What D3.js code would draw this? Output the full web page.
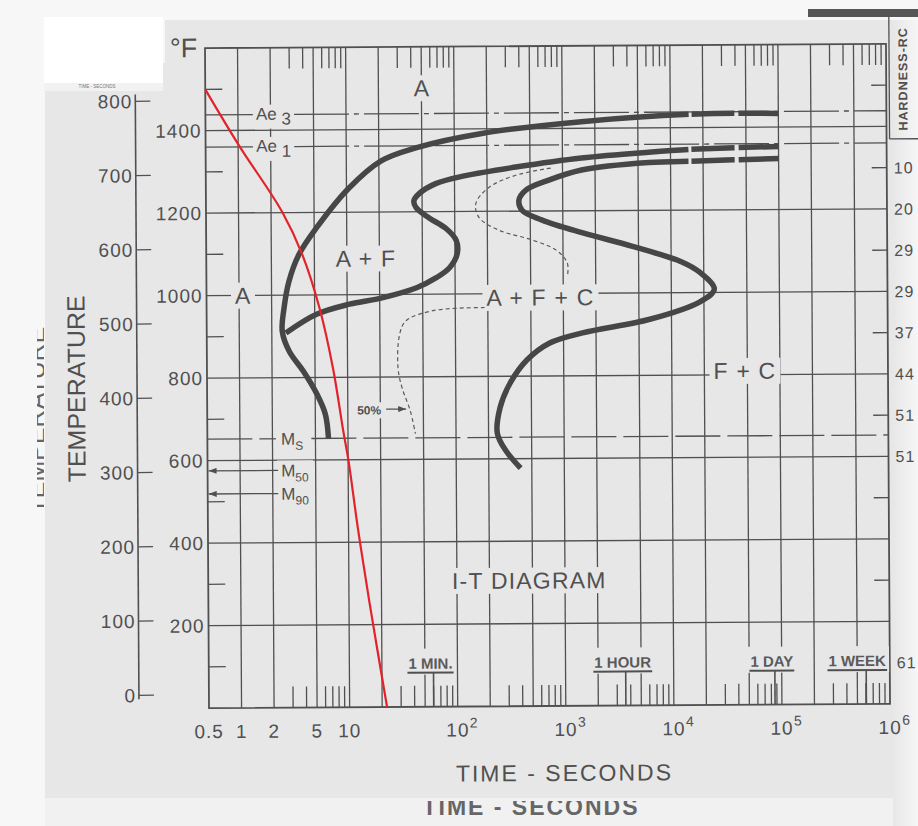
<!DOCTYPE html>
<html>
<head>
<meta charset="utf-8">
<script src="https://cdn.jsdelivr.net/npm/d3@7"></script>
<style>
  body { margin: 0; background: #f7f7f7; }
  svg { display: block; font-family: "Liberation Sans", Arial, sans-serif; }
</style>
</head>
<body>
<script>
var svgWidth = 918;
var svgHeight = 826;

// ---- axis values ----
var timeTicks = [0.5, 1, 2, 5, 10, 100, 1000, 10000, 100000, 1000000];
var timeTickBase = ["0.5", "1", "2", "5", "10", "10", "10", "10", "10", "10"];
var timeTickExp = ["", "", "", "", "", "2", "3", "4", "5", "6"];

var fahrenheitTicks = [200, 400, 600, 800, 1000, 1200, 1400];
var fahrenheitMinor = [100, 300, 500, 700, 900, 1100, 1300, 1500];
var celsiusTicks = [0, 100, 200, 300, 400, 500, 600, 700, 800];

var hardnessTemps = [1300, 1200, 1100, 1000, 900, 800, 700, 600, 100];
var hardnessValues = ["10", "20", "29", "29", "37", "44", "51", "51", "61"];

var timeMarks = [60, 3600, 86400, 604800];
var timeMarkLabels = ["1 MIN.", "1 HOUR", "1 DAY", "1 WEEK"];

// critical temperatures (deg F)
var ae3 = 1438, ae1 = 1360, ms = 652, m50 = 575, m90 = 519;

// ---- curves [seconds, deg F] ----
var startCurve = [[1e5,1433],[1.8e4,1433],[1500,1416],[180,1389],[44,1355],[21,1324],[10.5,1258],
  [5.2,1161],[3.6,1098],[2.9,1033],[2.6,967],[2.5,912],[2.9,863],[3.9,815],[5.2,759],[6.2,710],[6.6,652]];
var ferriteCurve = [[1e5,1353],[1.8e4,1348],[6300,1341],[1500,1328],[370,1307],[127,1287],[67,1268],
  [47,1244],[42,1227],[44,1210],[58,1185],[83,1159],[103,1130],[105,1098],[89,1064],[67,1040],
  [44,1016],[21,992],[10.5,977],[5.2,953],[2.7,908]];
var finishCurve = [[1e5,1324],[1.8e4,1319],[6300,1316],[1500,1299],[745,1275],[457,1251],[394,1227],
  [420,1202],[643,1178],[1500,1147],[4400,1113],[12700,1074],[18200,1050],[25000,1008],[18200,977],
  [6300,936],[1500,904],[745,880],[457,839],[318,783],[257,725],[241,662],[286,621],[394,577]];
var halfUpper = [[778,1304],[369,1287],[208,1258],[157,1219],[168,1185],[257,1154],[519,1130],
  [865,1105],[1094,1074],[1094,1040]];
var halfLower = [[187,967],[62,960],[35,936],[30.5,904],[29.3,822],[31.9,773],[37.8,718],[42.1,662]];
var coolingCurve = [[0.5,1500],[1.01,1365],[2.53,1202],[3.87,1098],[5.56,967],[7.33,822],
  [9.06,669],[10.1,596],[12.2,434],[15.4,257],[22.2,0]];

var regionLabels = ["A", "A + F", "A", "A + F + C", "F + C", "I-T DIAGRAM"];
var regionTimes = [50, 15, 1.08, 615, 47500, 467];
var regionTemps = [1500, 1088, 1000, 991, 810, 305];

var paper = "#e7e7e7";
var ink = "#505050";

var svg = d3.select("body").append("svg")
  .attr("width", svgWidth)
  .attr("height", svgHeight);

// ---- scan background ----
svg.append("rect").attr("width", svgWidth).attr("height", svgHeight).attr("fill", "#f7f7f7");
svg.append("path")
  .attr("d", "M165,20 L918,20 L918,798 L45,798 L45,63 L165,63 Z")
  .attr("fill", paper);
svg.append("rect").attr("x", 45).attr("y", 798).attr("width", 873).attr("height", 28).attr("fill", "#f1f1f1");
var defs = svg.append("defs");
var grad = defs.append("linearGradient").attr("id", "edge");
grad.append("stop").attr("offset", "0%").attr("stop-color", paper);
grad.append("stop").attr("offset", "100%").attr("stop-color", "#f6f6f6");
svg.append("rect").attr("x", 893).attr("y", 20).attr("width", 25).attr("height", 806).attr("fill", "url(#edge)");
svg.append("rect").attr("x", 808).attr("y", 9).attr("width", 110).attr("height", 8).attr("fill", "#565656");
svg.append("rect").attr("x", 44).attr("y", 17).attr("width", 119).attr("height", 66).attr("fill", "#ffffff");
svg.append("rect").attr("x", 44).attr("y", 83).attr("width", 119).attr("height", 8).attr("fill", "#f2f2f2");
svg.append("text").attr("x", 97).attr("y", 88).attr("text-anchor", "middle")
  .attr("font-size", 4.5).attr("fill", "#777").text("TIME - SECONDS");

defs.append("marker").attr("id", "arrow").attr("viewBox", "0 -3 8 6")
  .attr("refX", 8).attr("refY", 0).attr("markerWidth", 8).attr("markerHeight", 6)
  .attr("markerUnits", "userSpaceOnUse").attr("orient", "auto")
  .append("path").attr("d", "M0,-3 L8,0 L0,3 Z").attr("fill", ink);
defs.append("clipPath").attr("id", "ghostClip")
  .append("rect").attr("x", 37).attr("y", 0).attr("width", 7).attr("height", 826);
defs.append("clipPath").attr("id", "bottomClip")
  .append("rect").attr("x", 0).attr("y", 801).attr("width", 918).attr("height", 30);

// ghost copies cut by the scan edges
svg.append("g").attr("clip-path", "url(#ghostClip)")
  .append("text")
  .attr("transform", "translate(45,420) rotate(-90)")
  .attr("text-anchor", "middle").attr("font-size", 25).attr("fill", "#666")
  .text("TEMPERATURE");
svg.append("g").attr("clip-path", "url(#bottomClip)")
  .append("text")
  .attr("x", 531).attr("y", 815).attr("text-anchor", "middle")
  .attr("font-size", 23).attr("font-weight", "bold").attr("letter-spacing", 2)
  .attr("fill", "#666").text("TIME - SECONDS");

// ---- chart (slightly rotated, like the scan) ----
var chart = svg.append("g").attr("transform", "rotate(-0.35, 547, 376)");

var x = d3.scaleLog().domain([0.5, 1e6]).range([207, 888]);
var y = d3.scaleLinear().domain([0, 1600]).range([706, 46]);
var x0 = x.range()[0], x1 = x.range()[1], yTop = y.range()[1], yBot = y.range()[0];

var gridLayer = chart.append("g").attr("stroke", ink).attr("stroke-width", 1.3);
var bgLayer = chart.append("g");
var curveLayer = chart.append("g").attr("fill", "none");
var textLayer = chart.append("g").attr("fill", ink);

function leadDigit(t) {
  return Math.round(t / Math.pow(10, Math.floor(Math.log10(t) + 1e-9)));
}

// vertical grid + minor time ticks
var logTicks = x.ticks().filter(function(t) { return t >= 1 && t < 1e6; });
logTicks.forEach(function(t) {
  var d = leadDigit(t);
  if (d === 1 || d === 2 || d === 5) {
    gridLayer.append("line").attr("x1", x(t)).attr("x2", x(t)).attr("y1", yTop).attr("y2", yBot);
  } else {
    gridLayer.append("line").attr("x1", x(t)).attr("x2", x(t)).attr("y1", yTop).attr("y2", yTop + 21);
    gridLayer.append("line").attr("x1", x(t)).attr("x2", x(t)).attr("y1", yBot - 21).attr("y2", yBot);
  }
});

// horizontal grid + minor temperature ticks
fahrenheitTicks.forEach(function(f) {
  gridLayer.append("line").attr("x1", x0).attr("x2", x1).attr("y1", y(f)).attr("y2", y(f));
});
fahrenheitMinor.forEach(function(f) {
  gridLayer.append("line").attr("x1", x0).attr("x2", x0 + 17).attr("y1", y(f)).attr("y2", y(f));
  if (f >= 300) {
    gridLayer.append("line").attr("x1", x1 - 15).attr("x2", x1).attr("y1", y(f)).attr("y2", y(f));
  }
});

// frame
gridLayer.append("rect").attr("x", x0).attr("y", yTop).attr("width", x1 - x0).attr("height", yBot - yTop)
  .attr("fill", "none").attr("stroke-width", 1.8);

// hardness box on right
gridLayer.append("line").attr("x1", 891).attr("x2", 891).attr("y1", 18).attr("y2", 141);
gridLayer.append("line").attr("x1", 891).attr("x2", 930).attr("y1", 141).attr("y2", 141);

// celsius axis
var cx = 137;
function cToY(c) { return y(c * 1.8 + 32); }
gridLayer.append("line").attr("x1", cx).attr("x2", cx).attr("y1", 92).attr("y2", cToY(0) + 4)
  .attr("stroke-width", 1.6);
celsiusTicks.forEach(function(c) {
  gridLayer.append("line").attr("x1", cx).attr("x2", cx + 15).attr("y1", cToY(c)).attr("y2", cToY(c));
  textLayer.append("text").attr("x", cx - 3).attr("y", cToY(c)).attr("dy", "0.36em")
    .attr("text-anchor", "end").attr("font-size", 19).attr("letter-spacing", 1).text(c);
});

// fahrenheit labels
fahrenheitTicks.forEach(function(f) {
  textLayer.append("text").attr("x", x0 - 4).attr("y", y(f)).attr("dy", "0.36em")
    .attr("text-anchor", "end").attr("font-size", 19).attr("letter-spacing", 1).text(f);
});
textLayer.append("text").attr("x", 172).attr("y", 55).attr("font-size", 27).text("°F");

// time tick labels
timeTicks.forEach(function(t, i) {
  textLayer.append("text").attr("x", x(t)).attr("y", 736)
    .attr("text-anchor", "middle").attr("font-size", 19).attr("letter-spacing", 1)
    .text(timeTickBase[i]);
  if (timeTickExp[i]) {
    textLayer.append("text").attr("x", x(t) + 12).attr("y", 727)
      .attr("font-size", 14).text(timeTickExp[i]);
  }
});

// axis titles
textLayer.append("text").attr("transform", "translate(85,386) rotate(-90)")
  .attr("text-anchor", "middle").attr("font-size", 25).text("TEMPERATURE");
textLayer.append("text").attr("x", 562).attr("y", 781).attr("text-anchor", "middle")
  .attr("font-size", 23).attr("letter-spacing", 2).text("TIME - SECONDS");
textLayer.append("text").attr("transform", "translate(909,81) rotate(-90)")
  .attr("text-anchor", "middle").attr("font-size", 12.5).attr("font-weight", "bold")
  .attr("letter-spacing", 1).text("HARDNESS-RC");

// hardness values
hardnessTemps.forEach(function(f, i) {
  textLayer.append("text").attr("x", 895).attr("y", y(f)).attr("dy", "0.36em")
    .attr("font-size", 16).attr("letter-spacing", 1).text(hardnessValues[i]);
});

// label with a paper-coloured patch behind it (breaks the grid lines)
function patch(sel, px, py) {
  var b = sel.node().getBBox();
  bgLayer.append("rect").attr("x", b.x - px).attr("y", b.y - py)
    .attr("width", b.width + 2 * px).attr("height", b.height + 2 * py).attr("fill", paper);
}

// region labels
regionLabels.forEach(function(s, i) {
  var t = textLayer.append("text").attr("x", x(regionTimes[i])).attr("y", y(regionTemps[i]))
    .attr("dy", "0.36em").attr("text-anchor", "middle").attr("font-size", 23)
    .attr("letter-spacing", s.length > 1 ? 1.2 : 0).text(s);
  patch(t, 4, 0);
});

// Ae3 / Ae1 lines
[[ae3, "3"], [ae1, "1"]].forEach(function(a) {
  var yy = y(a[0]);
  var lab = textLayer.append("text").attr("x", x(1) + 18).attr("y", yy).attr("dy", "0.3em")
    .attr("font-size", 17);
  lab.append("tspan").text("Ae ");
  lab.append("tspan").attr("dy", 5).text(a[1]);
  var b = lab.node().getBBox();
  gridLayer.append("line").attr("x1", x0).attr("x2", b.x - 3).attr("y1", yy).attr("y2", yy);
  gridLayer.append("line").attr("x1", b.x + b.width + 3).attr("x2", x1).attr("y1", yy).attr("y2", yy)
    .attr("stroke-dasharray", "55 5 5 5");
  patch(lab, 3, 0);
});

// Ms line
var msLab = textLayer.append("text").attr("x", x(1) + 41).attr("y", y(ms)).attr("dy", "0.36em")
  .attr("font-size", 17);
msLab.append("tspan").text("M");
msLab.append("tspan").attr("font-size", 12).attr("dy", 5).text("S");
patch(msLab, 5, 0);
gridLayer.append("line").attr("x1", x0).attr("x2", x1).attr("y1", y(ms)).attr("y2", y(ms))
  .attr("stroke-dasharray", "45 7");

// M50 / M90 arrows
[[m50, "50"], [m90, "90"]].forEach(function(m) {
  var lab = textLayer.append("text").attr("x", x(1) + 41).attr("y", y(m[0])).attr("dy", "0.36em")
    .attr("font-size", 17);
  lab.append("tspan").text("M");
  lab.append("tspan").attr("font-size", 12).attr("dy", 5).text(m[1]);
  patch(lab, 4, 1);
  var b = lab.node().getBBox();
  curveLayer.append("line").attr("x1", b.x - 3).attr("x2", x0 + 1).attr("y1", y(m[0])).attr("y2", y(m[0]))
    .attr("stroke", ink).attr("stroke-width", 1.3).attr("marker-end", "url(#arrow)");
});

// 50% note
var halfLab = textLayer.append("text").attr("x", x(16.8) - 15).attr("y", y(720)).attr("dy", "0.36em")
  .attr("font-size", 12).attr("font-weight", "bold").text("50%");
patch(halfLab, 3, 1);
curveLayer.append("line").attr("x1", x(16.8) + 14).attr("x2", x(16.8) + 34)
  .attr("y1", y(722)).attr("y2", y(722)).attr("stroke", ink).attr("stroke-width", 1.3)
  .attr("marker-end", "url(#arrow)");

// time marks at the bottom
timeMarks.forEach(function(t, i) {
  var shift = i === 3 ? -9 : -3;
  var lab = textLayer.append("text").attr("x", x(t) + shift).attr("y", 668)
    .attr("text-anchor", "middle").attr("font-size", 15).attr("font-weight", "bold")
    .attr("fill", "#5a5a5a").text(timeMarkLabels[i]);
  var b = lab.node().getBBox();
  bgLayer.append("rect").attr("x", b.x - 3).attr("y", b.y - 6).attr("width", b.width + 6)
    .attr("height", b.height + 9).attr("fill", paper);
  curveLayer.append("line").attr("x1", b.x - 1).attr("x2", b.x + b.width + 1)
    .attr("y1", 672).attr("y2", 672).attr("stroke", ink).attr("stroke-width", 2);
  curveLayer.append("line").attr("x1", x(t)).attr("x2", x(t)).attr("y1", 672).attr("y2", yBot)
    .attr("stroke", ink).attr("stroke-width", 1.6);
});

// ---- curves ----
var line = d3.line()
  .x(function(d) { return x(d[0]); })
  .y(function(d) { return y(d[1]); })
  .curve(d3.curveCatmullRom.alpha(0.5));

[startCurve, ferriteCurve, finishCurve].forEach(function(c) {
  curveLayer.append("path").attr("d", line(c))
    .attr("stroke", "#464646").attr("stroke-width", 5.5)
    .attr("stroke-dasharray", "40 4 43 3 4000");
});

[halfUpper, halfLower].forEach(function(c) {
  curveLayer.append("path").attr("d", line(c))
    .attr("stroke", "#5a5a5a").attr("stroke-width", 1.2).attr("stroke-dasharray", "4 3");
});

curveLayer.append("path").attr("d", line(coolingCurve))
  .attr("stroke", "#e3232b").attr("stroke-width", 2.2);
</script>
</body>
</html>
